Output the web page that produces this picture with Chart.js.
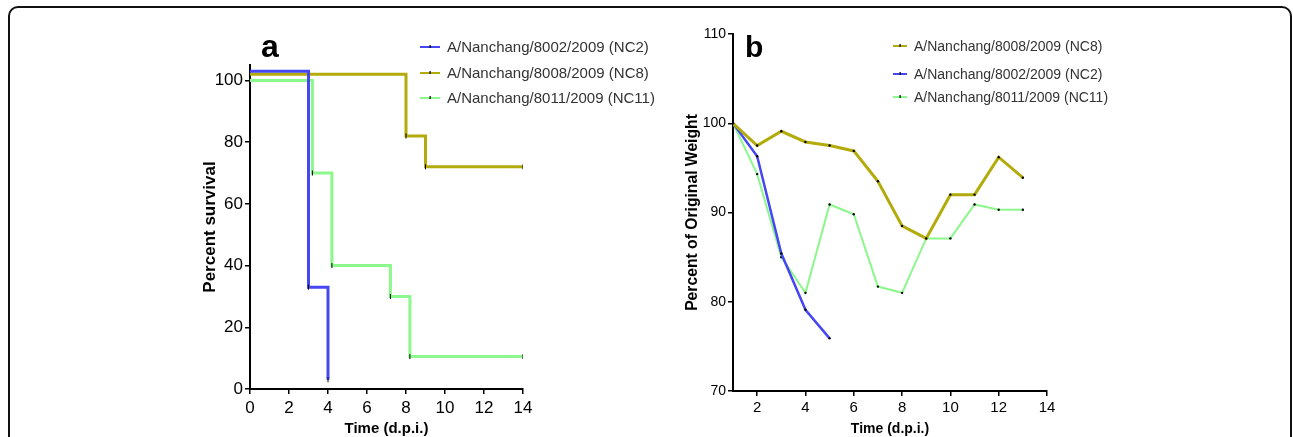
<!DOCTYPE html>
<html>
<head>
<meta charset="utf-8">
<script src="https://cdn.jsdelivr.net/npm/chart.js@4"></script>
<style>
  body{margin:0;background:#fff;width:1293px;height:437px;overflow:hidden;position:relative;}
  #frame{position:absolute;left:8px;top:6px;width:1280px;height:470px;border:2px solid #111;border-radius:10px;}
  canvas{position:absolute;}
  #cA{left:190px;top:20px;}
  #cB{left:670px;top:20px;}
</style>
</head>
<body>
<div id="frame"></div>
<canvas id="cA" width="500" height="417"></canvas>
<canvas id="cB" width="440" height="417"></canvas>
<script>
// ============ DATA ============
const labelNC2 = "A/Nanchang/8002/2009 (NC2)";
const labelNC8 = "A/Nanchang/8008/2009 (NC8)";
const labelNC11 = "A/Nanchang/8011/2009 (NC11)";

// (a) Kaplan-Meier survival, event days and % survival after each event
const survDaysNC2 = [0, 3, 4];
const survNC2 = [103, 33, 3];
const survDaysNC8 = [0, 8, 9, 14];
const survNC8 = [102, 82, 72, 72];
const survDaysNC11 = [0, 3.2, 4.2, 7.2, 8.2, 14];
const survNC11 = [100, 70, 40, 30, 10.5, 10.5];

// (b) body weight, % of original
const dpiNC8 = [1, 2, 3, 4, 5, 6, 7, 8, 9, 10, 11, 12, 13];
const wtNC8 = [100, 97.5, 99.1, 97.9, 97.5, 96.9, 93.5, 88.5, 87.1, 92.0, 92.0, 96.2, 93.9];
const dpiNC2 = [1, 2, 3, 4, 5];
const wtNC2 = [100, 96.3, 85.4, 79.1, 75.9];
const dpiNC11 = [1, 2, 3, 4, 5, 6, 7, 8, 9, 10, 11, 12, 13];
const wtNC11 = [100, 94.3, 85.0, 81.0, 90.9, 89.8, 81.7, 81.0, 87.1, 87.1, 90.9, 90.3, 90.3];

const survTicks = [0, 20, 40, 60, 80, 100];
const weightTicks = [70, 80, 90, 100, 110];

const BLUE = "#4646f2", OLIVE = "#b3ab0c", GREEN = "#8cf78c";
const SANS = "'Liberation Sans', Arial, sans-serif";
const NARROW = "'Liberation Sans Narrow', 'Liberation Sans', Arial, sans-serif";

const pts = (xs, ys) => xs.map((x, i) => ({x, y: ys[i]}));

// ============ legend + panel letter ============
const sideLegend = {
  id: "sideLegend",
  afterDraw(chart, args, o){
    const ctx = chart.ctx;
    ctx.save();
    ctx.fillStyle = "#000";
    ctx.textBaseline = "alphabetic";
    ctx.font = "bold " + o.letterSize + "px " + SANS;
    ctx.fillText(o.letter, o.letterX, o.letterY);
    ctx.font = o.fontSize + "px " + SANS;
    ctx.textBaseline = "middle";
    chart.data.datasets.forEach((ds, i) => {
      const y = o.rows[i];
      ctx.strokeStyle = ds.borderColor;
      ctx.lineWidth = 2;
      ctx.beginPath(); ctx.moveTo(o.x, y); ctx.lineTo(o.x + o.len, y); ctx.stroke();
      ctx.fillStyle = "#000";
      ctx.fillRect(o.x + o.len / 2 - 0.5, y - 2, 1.2, 3);
      ctx.fillStyle = "#333";
      ctx.fillText(ds.label, o.x + o.len + o.gap, y + 1);
    });
    ctx.restore();
  }
};

function axis(min, max, step, tickFont, tickPad, titleText, titleFont, titlePad, size, isY){
  return {
    type: "linear", min, max,
    ticks: {stepSize: step, includeBounds: false, color: "#000", font: tickFont, padding: tickPad},
    grid: {display: true, drawOnChartArea: false, drawTicks: true, tickLength: 5, color: "#000", lineWidth: 1.5},
    border: {display: true, color: "#000", width: 2},
    title: {display: true, text: titleText, color: "#000", font: titleFont, padding: titlePad},
    afterFit: s => { if(isY) s.width = size; else s.height = size; }
  };
}

// ============ (a) survival ============
const stepSet = (label, xs, ys, color) => ({
  label, data: pts(xs, ys), borderColor: color, borderWidth: 3, stepped: true,
  pointStyle: "line", rotation: 90, pointBorderColor: "#000", pointBorderWidth: 1,
  pointRadius: c => c.dataIndex === 0 ? 0 : 2.5
});

new Chart(document.getElementById("cA"), {
  type: "line",
  data: {datasets: [
    stepSet(labelNC2, survDaysNC2, survNC2, BLUE),
    stepSet(labelNC8, survDaysNC8, survNC8, OLIVE),
    stepSet(labelNC11, survDaysNC11, survNC11, GREEN)
  ]},
  options: {
    responsive: false, animation: false, events: [],
    layout: {padding: {left: 0, top: 45, right: 167, bottom: 0}},
    scales: {
      x: axis(0, 14, 2, {family: NARROW, size: 17}, 4, "Time (d.p.i.)", {family: SANS, size: 15, weight: "bold", lineHeight: 1.1}, {top: 0, bottom: 0}, 48, false),
      y: axis(0, 105, 20, {family: NARROW, size: 17}, 2, "Percent survival", {family: SANS, size: 17, weight: "bold", lineHeight: 1.1}, {top: 11, bottom: 0}, 60, true)
    },
    plugins: {
      legend: {display: false}, tooltip: {enabled: false},
      sideLegend: {letter: "a", letterSize: 32, letterX: 71, letterY: 37, fontSize: 15, x: 230, len: 20, gap: 7, rows: [27, 53, 78]}
    }
  },
  plugins: [sideLegend]
});

// ============ (b) weight ============
const wtSet = (label, xs, ys, color, w) => ({
  label, data: pts(xs, ys), borderColor: color, borderWidth: w, tension: 0,
  pointStyle: "circle", pointRadius: 1.2, pointBackgroundColor: "#000", pointBorderWidth: 0
});

new Chart(document.getElementById("cB"), {
  type: "line",
  data: {datasets: [
    wtSet(labelNC8, dpiNC8, wtNC8, OLIVE, 3),
    wtSet(labelNC2, dpiNC2, wtNC2, BLUE, 2.5),
    wtSet(labelNC11, dpiNC11, wtNC11, GREEN, 2)
  ]},
  options: {
    responsive: false, animation: false, events: [],
    layout: {padding: {left: 0, top: 14, right: 63, bottom: 0}},
    scales: {
      x: axis(1, 14, 2, {family: SANS, size: 15}, 3, "Time (d.p.i.)", {family: SANS, size: 14, weight: "bold", lineHeight: 1.1}, {top: 0, bottom: 0}, 46, false),
      y: axis(70, 110, 10, {family: SANS, size: 14}, 2, "Percent of Original Weight", {family: SANS, size: 15.7, weight: "bold", lineHeight: 1.1}, {top: 14, bottom: 0}, 63, true)
    },
    plugins: {
      legend: {display: false}, tooltip: {enabled: false},
      sideLegend: {letter: "b", letterSize: 30, letterX: 75, letterY: 37, fontSize: 14, x: 223, len: 14, gap: 7, rows: [26, 54, 77]}
    }
  },
  plugins: [sideLegend]
});
</script>
</body>
</html>
